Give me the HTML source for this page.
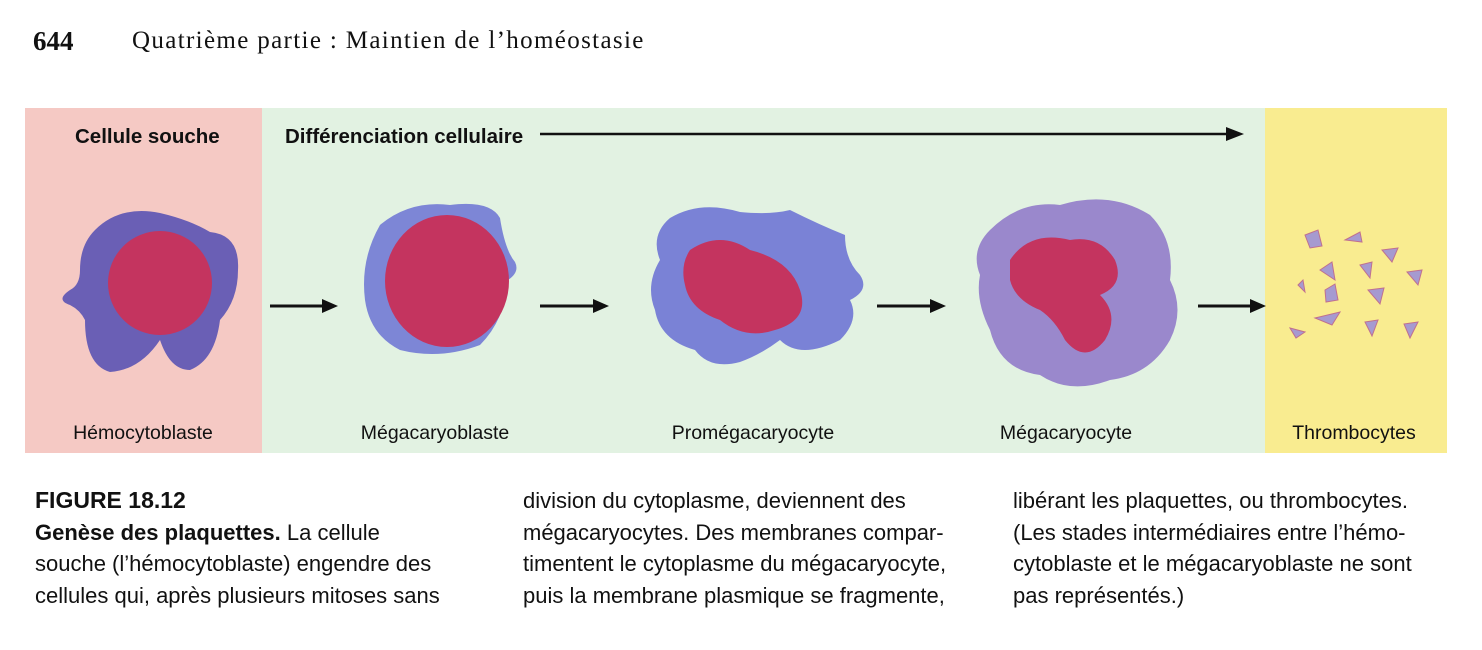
<!DOCTYPE html>
<html><head><meta charset="utf-8"><style>
body{margin:0;width:1482px;height:650px;background:#fff;position:relative;overflow:hidden;font-family:"Liberation Sans",sans-serif}
.a{position:absolute;white-space:nowrap}
.cap{font-size:22px;color:#111;line-height:31.5px}
</style></head><body>
<div class="a" style="left:33px;top:26px;font:bold 27px 'Liberation Serif',serif;color:#111">644</div>
<div class="a" style="left:132px;top:27px;font:25px 'Liberation Serif',serif;letter-spacing:1.35px;color:#111">Quatrième partie : Maintien de l’homéostasie</div>
<svg class="a" style="left:0;top:0" width="1482" height="470">
<rect x="25" y="108" width="237" height="345" fill="#f5c9c4"/>
<rect x="262" y="108" width="1003" height="345" fill="#e2f2e2"/>
<rect x="1265" y="108" width="182" height="345" fill="#f9ec90"/>
<text x="75" y="143" font-weight="bold" font-size="20.5" fill="#111">Cellule souche</text>
<text x="285" y="143" font-weight="bold" font-size="20.5" fill="#111">Différenciation cellulaire</text>
<line x1="540" y1="134" x2="1232" y2="134" stroke="#111" stroke-width="2.5"/>
<path d="M1244 134 L1226 127 L1226 141Z" fill="#111"/>
<g stroke="#111" stroke-width="3">
<line x1="270" y1="306" x2="325" y2="306"/><line x1="540" y1="306" x2="596" y2="306"/><line x1="877" y1="306" x2="933" y2="306"/><line x1="1198" y1="306" x2="1253" y2="306"/></g>
<g fill="#111"><path d="M338 306 L322 299 L322 313Z"/><path d="M609 306 L593 299 L593 313Z"/><path d="M946 306 L930 299 L930 313Z"/><path d="M1266 306 L1250 299 L1250 313Z"/></g>
<path d="M95 230 Q120 205 160 213 Q190 220 210 232 Q240 235 238 270 Q238 300 220 320 Q215 360 190 370 Q170 370 160 340 Q140 370 110 372 Q85 365 85 320 Q80 310 70 305 Q55 300 70 290 Q80 285 80 270 Q80 245 95 230Z" fill="#6a5fb5"/>
<ellipse cx="160" cy="283" rx="52" ry="52" fill="#c4345f"/>
<path d="M380 225 Q410 200 450 205 Q490 200 500 218 Q505 250 515 262 Q520 272 508 280 Q505 320 480 345 Q440 360 400 350 Q370 335 365 300 Q360 260 380 225Z" fill="#7d86d6"/>
<ellipse cx="447" cy="281" rx="62" ry="66" fill="#c4345f"/>
<path d="M670 218 Q700 200 740 212 Q770 215 790 210 Q820 225 845 235 Q845 260 860 275 Q870 290 850 300 Q860 320 840 340 Q800 360 780 340 Q760 355 740 362 Q710 370 695 350 Q660 340 655 310 Q645 285 660 260 Q650 235 670 218Z" fill="#7a82d6"/>
<path d="M690 250 Q720 230 750 250 Q790 260 800 290 Q810 320 775 330 Q745 340 720 320 Q690 310 685 285 Q680 265 690 250Z" fill="#c4345f"/>
<path d="M990 230 Q1020 200 1060 205 Q1110 190 1150 215 Q1175 240 1170 280 Q1185 310 1170 340 Q1150 375 1110 380 Q1070 395 1040 375 Q1000 370 990 330 Q975 300 980 275 Q970 250 990 230Z" fill="#9a88cc"/>
<path d="M1010 260 Q1030 230 1070 240 Q1100 235 1115 260 Q1125 285 1100 295 Q1120 315 1105 340 Q1085 365 1065 340 Q1055 320 1040 310 Q1015 300 1010 280Z" fill="#c4345f"/>
<g fill="#a69ad0" stroke="#c07090" stroke-width="1">
<polygon points="1305,235 1318,230 1322,246 1310,248"/><polygon points="1345,240 1360,232 1362,242"/><polygon points="1382,250 1398,248 1392,262"/><polygon points="1320,270 1332,262 1335,280"/><polygon points="1360,265 1372,262 1370,278"/><polygon points="1407,272 1422,270 1418,285"/><polygon points="1298,285 1303,280 1305,292"/><polygon points="1325,290 1335,284 1338,300 1326,302"/><polygon points="1368,290 1384,288 1380,304"/><polygon points="1315,318 1340,312 1332,325"/><polygon points="1365,322 1378,320 1372,336"/><polygon points="1404,324 1418,322 1410,338"/><polygon points="1290,328 1305,332 1296,338"/></g>
<g font-size="19.5" fill="#111" text-anchor="middle">
<text x="143" y="439">Hémocytoblaste</text><text x="435" y="439">Mégacaryoblaste</text><text x="753" y="439">Promégacaryocyte</text><text x="1066" y="439">Mégacaryocyte</text><text x="1354" y="439">Thrombocytes</text></g>
</svg>
<div class="a cap" style="left:35px;top:485px"><b style="font-size:23px">FIGURE 18.12</b><br><b>Genèse des plaquettes.</b> La cellule<br>souche (l’hémocytoblaste) engendre des<br>cellules qui, après plusieurs mitoses sans</div>
<div class="a cap" style="left:523px;top:485px">division du cytoplasme, deviennent des<br>mégacaryocytes. Des membranes compar-<br>timentent le cytoplasme du mégacaryocyte,<br>puis la membrane plasmique se fragmente,</div>
<div class="a cap" style="left:1013px;top:485px">libérant les plaquettes, ou thrombocytes.<br>(Les stades intermédiaires entre l’hémo-<br>cytoblaste et le mégacaryoblaste ne sont<br>pas représentés.)</div>
</body></html>
